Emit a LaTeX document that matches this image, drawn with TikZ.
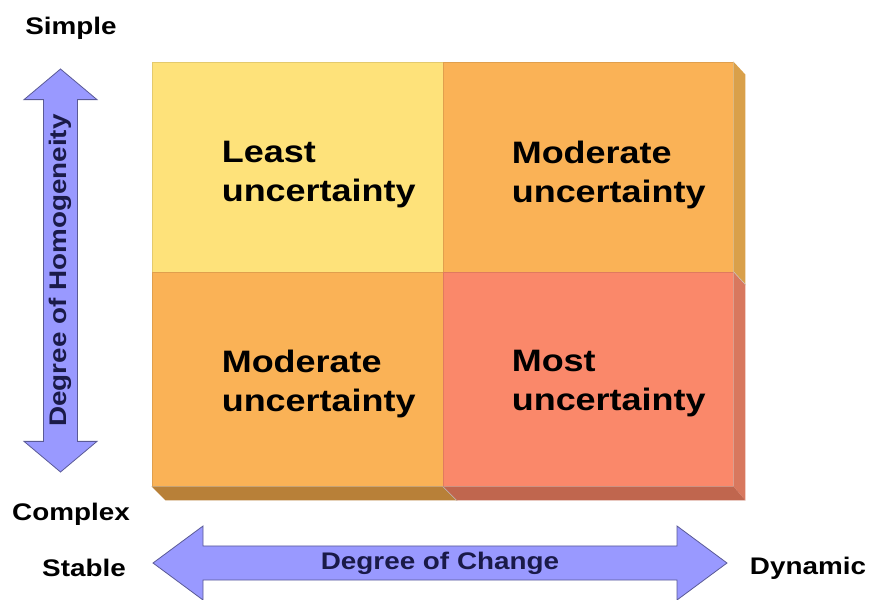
\documentclass[tikz,border=0pt]{standalone}
\usepackage{fontspec}
\setmainfont{Liberation Sans}[FakeStretch=1.16]
\usetikzlibrary{shapes.arrows}
\definecolor{yelcell}{HTML}{FEE27A}
\definecolor{orgcell}{HTML}{FAB256}
\definecolor{redcell}{HTML}{FA886A}
\definecolor{orgside}{HTML}{D9A04A}
\definecolor{orgbot}{HTML}{B88038}
\definecolor{redside}{HTML}{D8785E}
\definecolor{redbot}{HTML}{C0664E}
\definecolor{arrfill}{HTML}{9999FF}
\definecolor{arrline}{HTML}{5A5A96}
\definecolor{arrtext}{HTML}{1A1A48}

\begin{document}
\begin{tikzpicture}[x=1pt,y=-1pt,
  cell/.style={draw=black,draw opacity=0.1,line width=0.8pt,minimum width=#1,inner sep=0pt},
  celltext/.style={anchor=north west,align=left,inner sep=0pt,font=\fontsize{31}{39}\selectfont\bfseries},
  corner/.style={inner sep=0pt,font=\fontsize{24}{28}\selectfont\bfseries},
  bigarrow/.style={double arrow,fill=arrfill,draw=arrline,line width=0.8pt,inner sep=2pt,
    text=arrtext,font=\fontsize{24}{28}\selectfont\bfseries}]
  \useasboundingbox (0,0) rectangle (869,599);
  % the four cells
  \node[cell=291pt,minimum height=210pt,fill=yelcell] (c11) at (297.5,167) {};
  \node[cell=290pt,minimum height=210pt,fill=orgcell] (c12) at (588,167) {};
  \node[cell=291pt,minimum height=214pt,fill=orgcell] (c21) at (297.5,379) {};
  \node[cell=290pt,minimum height=214pt,fill=redcell] (c22) at (588,379) {};
  % depth of the box
  \fill[orgside] (c12.north east) -- ++(12,13) -- ([shift={(12,13)}]c12.south east) -- (c12.south east) -- cycle;
  \fill[redside] (c22.north east) -- ++(12,13) -- ([shift={(12,14)}]c22.south east) -- (c22.south east) -- cycle;
  \fill[orgbot] (c21.south west) -- (c21.south east) -- ++(14,14) -- ([shift={(14,14)}]c21.south west) -- cycle;
  \fill[redbot] (c22.south west) -- ++(14,14) -- ([shift={(12,14)}]c22.south east) -- (c22.south east) -- cycle;
  \draw[black!25,line width=0.5pt] (c22.south west) -- ++(14,14);
  \draw[black!20,line width=0.5pt] (c22.north east) -- ++(12,13);
  % labels in the cells
  \node[celltext] (t11) at ([shift={(70,79)}]c11.north west) {Least\\uncertainty};
  \node[celltext] (t12) at ([shift={(69,79)}]c12.north west) {Moderate\\uncertainty};
  \node[celltext] (t21) at ([shift={(70,78)}]c21.north west) {Moderate\\uncertainty};
  \node[celltext] (t22) at ([shift={(69,78)}]c22.north west) {Most\\uncertainty};
  % the two axes
  \node[bigarrow,rotate=90,minimum height=403pt,minimum width=73pt,
    double arrow head extend=15.5pt,double arrow tip angle=100] (homog) at (60.5,270.5) {Degree of Homogeneity};
  \node[bigarrow,minimum height=574pt,minimum width=74pt,
    double arrow head extend=16pt,double arrow tip angle=73] (change) at (440,563) {Degree of Change};
  \node[corner] (simple) at (71,28) {Simple};
  \node[corner] (complex) at (71,514) {Complex};
  \node[corner] (stable) at (84,568) {Stable};
  \node[corner] (dynamic) at (808,568) {Dynamic};
\end{tikzpicture}
\end{document}
